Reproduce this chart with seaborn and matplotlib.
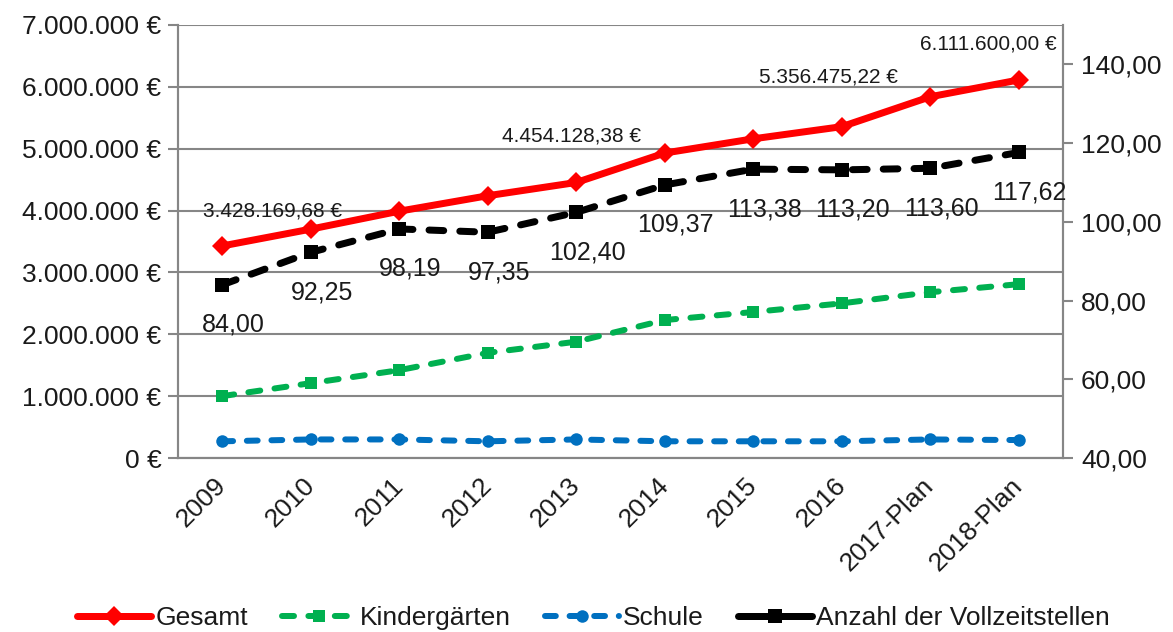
import numpy as np
import pandas as pd
import seaborn as sns
import matplotlib.pyplot as plt
from matplotlib.ticker import FuncFormatter, FixedLocator
from matplotlib.lines import Line2D

# ==============================================================
# DATA
# ==============================================================
jahre = ["2009", "2010", "2011", "2012", "2013", "2014", "2015", "2016", "2017-Plan", "2018-Plan"]

gesamt = [3428169.68, 3700000, 3990000, 4240000, 4454128.38, 4930000, 5160000, 5356475.22, 5840000, 6111600.00]
kindergaerten = [1000000, 1210000, 1420000, 1700000, 1880000, 2230000, 2360000, 2500000, 2680000, 2810000]
schule = [270000, 300000, 300000, 270000, 300000, 270000, 270000, 270000, 300000, 290000]
vollzeitstellen = [84.00, 92.25, 98.19, 97.35, 102.40, 109.37, 113.38, 113.20, 113.60, 117.62]

# which Gesamt points get a label + their offsets in pixels (dx, dy)
gesamt_label_idx = [0, 4, 7, 9]
gesamt_label_off = [(50, 35), (-5, 46), (-13, 50), (-30, 36)]

GRID = "#868686"
TXT = "#1a1a1a"
RED, GREEN, BLUE = "#FF0000", "#00B050", "#0070C0"

sns.set_style("white")
plt.rcParams["font.family"] = ["Liberation Sans", "DejaVu Sans"]

df = pd.DataFrame({
    "pos": np.arange(len(jahre)),
    "Gesamt": gesamt,
    "Kindergärten": kindergaerten,
    "Schule": schule,
    "Anzahl": vollzeitstellen,
})

fig, ax = plt.subplots(figsize=(11.73, 6.32), dpi=100)
fig.subplots_adjust(left=178/1173, right=1063/1173, top=1-25/632, bottom=1-458/632)
ax2 = ax.twinx()

px = 72 / 100  # pixel -> points

# line styles
st_schule = dict(color=BLUE, lw=6*px, linestyle=(0, (1.8, 2.3)), dash_capstyle="round",
                 marker="o", markersize=9, markeredgewidth=0)
st_kinder = dict(color=GREEN, lw=6*px, linestyle=(0, (2.0, 2.4)), dash_capstyle="round",
                 marker="s", markersize=9, markeredgewidth=0)
st_gesamt = dict(color=RED, lw=7*px, marker="D", markersize=10, markeredgewidth=0)
st_anzahl = dict(color="black", lw=7*px, linestyle=(0, (2.1, 2.3)), dash_capstyle="round",
                 marker="s", markersize=10, markeredgewidth=0)

# left axis series
sns.lineplot(data=df, x="pos", y="Schule", ax=ax, zorder=3, **st_schule)
sns.lineplot(data=df, x="pos", y="Kindergärten", ax=ax, zorder=3, **st_kinder)
sns.lineplot(data=df, x="pos", y="Gesamt", ax=ax, zorder=4, **st_gesamt)

# right axis series
sns.lineplot(data=df, x="pos", y="Anzahl", ax=ax2, zorder=4, **st_anzahl)

# axes limits / ticks
ax.set_xlim(-0.5, len(jahre) - 0.5)
ax.set_ylim(0, 7000000)
ax.set_yticks(np.arange(0, 7000001, 1000000))
ax.yaxis.set_major_formatter(FuncFormatter(lambda v, p: (f"{int(v):,}".replace(",", ".")) + " €"))
ax2.set_ylim(40, 150)
ax2.set_yticks(np.arange(40, 141, 20))
ax2.yaxis.set_major_formatter(FuncFormatter(lambda v, p: f"{v:.2f}".replace(".", ",")))

ax.set_xticks(np.arange(len(jahre)))
ax.set_xticklabels(jahre, rotation=45, ha="right", va="center", rotation_mode="anchor",
                   fontsize=19, color=TXT)
ax.xaxis.set_minor_locator(FixedLocator(np.arange(-0.5, len(jahre), 1)))
ax.tick_params(axis="x", which="major", length=0, pad=17)
ax.tick_params(axis="x", which="minor", length=7, width=1.5, color=GRID)
ax.tick_params(axis="y", length=7, width=1.5, color=GRID, labelsize=19, labelcolor=TXT, pad=5)
ax2.tick_params(axis="y", length=7, width=1.5, color=GRID, labelsize=19, labelcolor=TXT, pad=6)

ax.set_xlabel("")
ax.set_ylabel("")
ax2.set_ylabel("")
ax.grid(axis="y", color=GRID, lw=1.5)
ax.set_axisbelow(True)
for a in (ax, ax2):
    for s in a.spines.values():
        s.set_color(GRID)
        s.set_linewidth(1.5)
ax.spines["top"].set_visible(False)
ax2.spines["top"].set_visible(False)

# data labels
for i, (dx, dy) in zip(gesamt_label_idx, gesamt_label_off):
    txt = f"{gesamt[i]:,.2f}".replace(",", "X").replace(".", ",").replace("X", ".") + " €"
    ax.annotate(txt, (i, gesamt[i]), xytext=(dx*px, dy*px), textcoords="offset points",
                ha="center", va="center", fontsize=15, color=TXT, zorder=6)

for i, v in enumerate(vollzeitstellen):
    ax2.annotate(f"{v:.2f}".replace(".", ","), (i, v), xytext=(11*px, -40*px),
                 textcoords="offset points", ha="center", va="center",
                 fontsize=18, color=TXT, zorder=6)

# legend
handles = [Line2D([], [], **st) for st in (st_gesamt, st_kinder, st_schule)]
handles.append(Line2D([], [], color="black", lw=7*px, marker="s", markersize=10, markeredgewidth=0))
labels = ["Gesamt", "Kindergärten", "Schule", "Anzahl der Vollzeitstellen"]
fig.legend(handles, labels, loc="center", bbox_to_anchor=(0.506, 1 - 618/632), ncol=4,
           frameon=False, fontsize=19, handlelength=2.8, handletextpad=0.15,
           columnspacing=1.3, labelcolor=TXT)

fig.savefig("out.png", dpi=100)
